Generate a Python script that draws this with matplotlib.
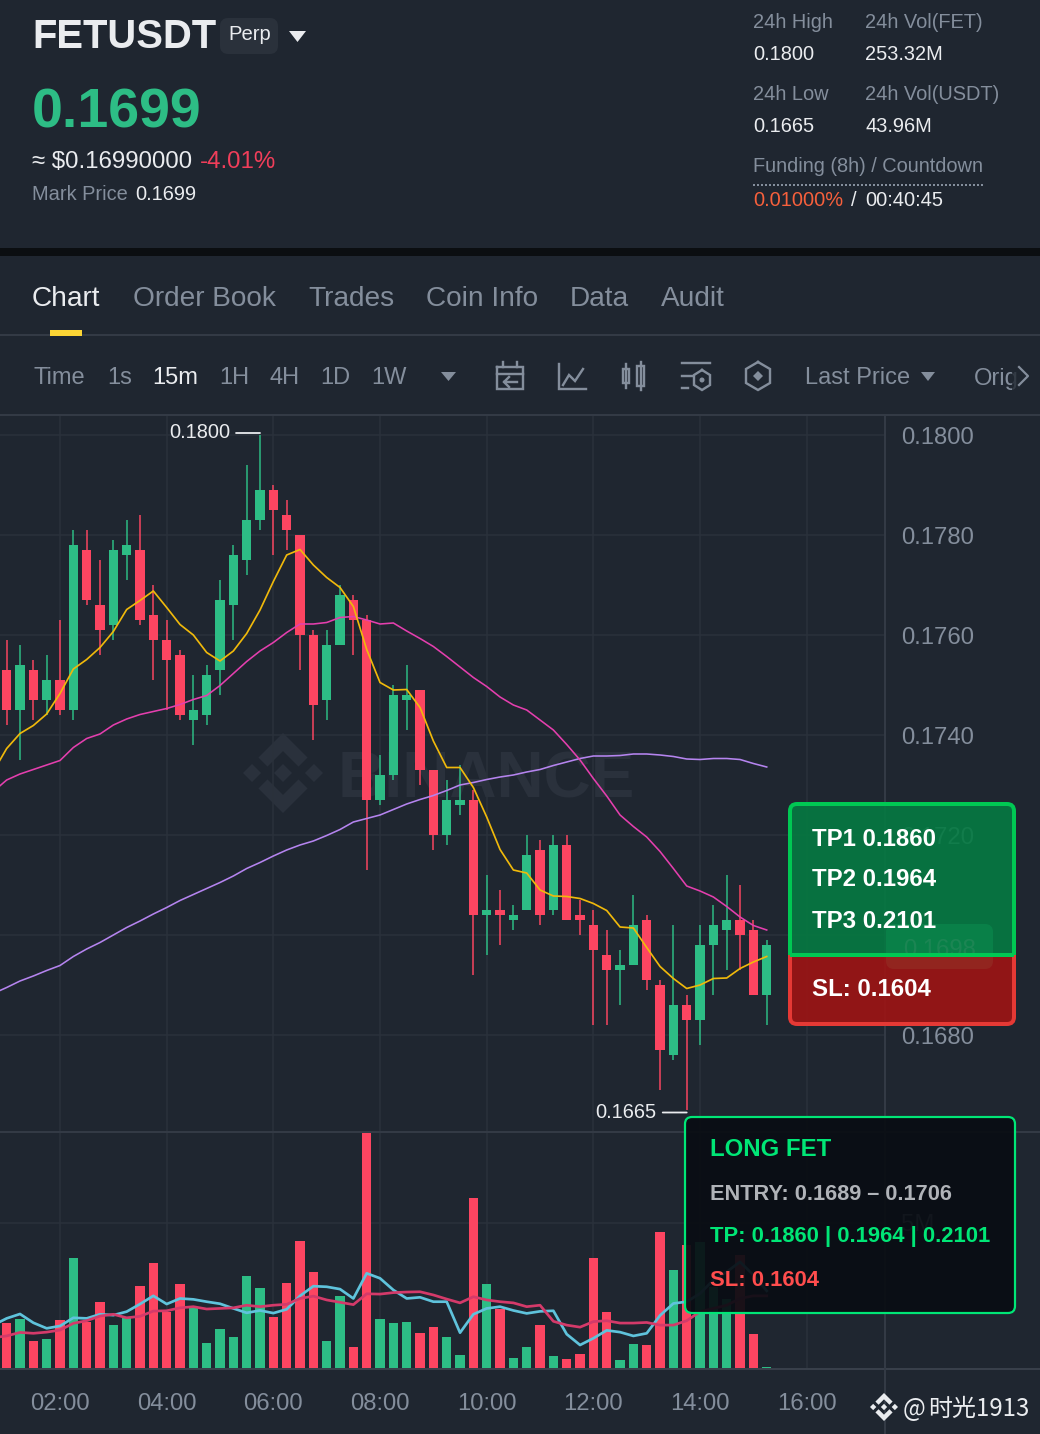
import numpy as np
import matplotlib
matplotlib.use('Agg')
import matplotlib.pyplot as plt
from matplotlib.patches import FancyBboxPatch, Polygon, Rectangle, Circle

plt.rcParams['font.family'] = ['Liberation Sans', 'DejaVu Sans']

# prices in units of 0.0001, one value per 15m candle
open_p = [1753, 1745, 1753, 1747, 1751, 1745, 1777, 1766, 1762, 1776, 1777, 1764, 1759, 1756, 1743, 1744, 1753, 1766, 1775, 1783,
          1789, 1784, 1780, 1760, 1747, 1758, 1767, 1763, 1727, 1732, 1747, 1749, 1733, 1720, 1726, 1727, 1704, 1705, 1703, 1705,
          1717, 1705, 1718, 1704, 1702, 1696, 1693, 1694, 1703, 1690, 1676, 1686, 1683, 1698, 1701, 1703, 1701, 1688]
close_p = [1745, 1754, 1747, 1751, 1745, 1778, 1767, 1761, 1777, 1778, 1763, 1759, 1755, 1744, 1745, 1752, 1767, 1776, 1783, 1789,
           1785, 1781, 1760, 1746, 1758, 1768, 1763, 1727, 1732, 1748, 1748, 1733, 1720, 1727, 1727, 1704, 1705, 1704, 1704, 1716,
           1704, 1718, 1703, 1703, 1697, 1693, 1694, 1702, 1691, 1677, 1686, 1683, 1698, 1702, 1703, 1700, 1688, 1698]
high_p = [1759, 1758, 1755, 1756, 1763, 1781, 1781, 1775, 1779, 1783, 1784, 1770, 1763, 1757, 1752, 1754, 1771, 1778, 1794, 1800,
          1790, 1787, 1780, 1761, 1761, 1770, 1768, 1764, 1736, 1750, 1754, 1749, 1733, 1731, 1734, 1729, 1712, 1709, 1706, 1720,
          1719, 1720, 1720, 1707, 1705, 1701, 1697, 1708, 1704, 1691, 1702, 1688, 1702, 1706, 1712, 1710, 1703, 1699]
low_p = [1742, 1735, 1743, 1744, 1744, 1743, 1766, 1756, 1759, 1771, 1762, 1751, 1745, 1743, 1738, 1742, 1748, 1759, 1772, 1781,
         1776, 1777, 1753, 1739, 1743, 1758, 1756, 1713, 1726, 1731, 1741, 1730, 1717, 1718, 1724, 1692, 1696, 1698, 1701, 1705,
         1702, 1704, 1703, 1700, 1682, 1682, 1686, 1694, 1689, 1669, 1675, 1665, 1678, 1688, 1693, 1693, 1688, 1682]

# moving averages start one candle before the first visible bar
ma_gold = [1732.7, 1737.3, 1740.3, 1741.9, 1744.2, 1748.3, 1753.2, 1755.1, 1757.5, 1760.7, 1765.1, 1766.9, 1768.8, 1765.5, 1762.1,
           1760.0, 1756.5, 1754.8, 1756.8, 1760.3, 1765.0, 1770.7, 1776.0, 1777.1, 1774.0, 1771.5, 1769.5, 1765.7, 1757.1, 1750.5,
           1749.0, 1749.1, 1745.5, 1738.8, 1733.5, 1733.5, 1729.5, 1723.6, 1717.1, 1713.0, 1712.4, 1709.0, 1707.8, 1707.7, 1707.3,
           1706.3, 1704.9, 1701.6, 1701.4, 1697.5, 1693.7, 1691.3, 1689.3, 1690.0, 1691.3, 1691.4, 1693.3, 1694.6, 1695.7]
ma_pink = [1728.7, 1731.0, 1732.2, 1733.1, 1734.0, 1734.9, 1737.5, 1739.3, 1740.2, 1742.0, 1743.2, 1744.1, 1744.7, 1745.3, 1746.1,
           1747.1, 1747.9, 1749.9, 1752.3, 1754.7, 1756.8, 1758.5, 1760.5, 1762.2, 1762.2, 1762.5, 1763.5, 1763.7, 1763.0, 1762.2,
           1762.4, 1760.8, 1759.3, 1757.7, 1755.7, 1753.6, 1751.5, 1749.7, 1747.6, 1746.0, 1745.0, 1743.0, 1741.0, 1738.1, 1735.0,
           1731.3, 1727.8, 1724.0, 1721.7, 1719.6, 1716.7, 1713.3, 1709.8, 1708.8, 1707.6, 1705.7, 1703.6, 1701.9, 1701.0]
ma_purple = [1688.3, 1689.5, 1690.8, 1691.8, 1692.9, 1693.9, 1695.7, 1697.2, 1698.5, 1700.0, 1701.5, 1702.8, 1704.2, 1705.5, 1706.9,
             1708.1, 1709.3, 1710.5, 1711.8, 1713.3, 1714.5, 1715.8, 1717.0, 1718.0, 1718.8, 1719.9, 1721.1, 1722.6, 1723.3, 1724.0,
             1725.1, 1726.2, 1727.1, 1727.9, 1728.9, 1730.0, 1730.5, 1731.1, 1731.6, 1732.0, 1732.6, 1733.1, 1733.9, 1734.6, 1735.3,
             1735.8, 1735.8, 1735.9, 1736.2, 1736.2, 1736.0, 1735.7, 1735.2, 1735.1, 1735.3, 1735.3, 1735.1, 1734.3, 1733.6]

# volume in millions
volume = [1.56, 1.70, 0.97, 1.02, 1.67, 3.81, 1.62, 2.28, 1.50, 1.73, 2.83, 3.61, 1.96, 2.90, 2.07, 0.88, 1.35, 1.10, 3.18, 2.77,
          1.79, 2.95, 4.38, 3.31, 0.96, 2.50, 0.76, 8.05, 1.71, 1.56, 1.62, 1.22, 1.45, 1.08, 0.47, 5.83, 2.92, 2.05, 0.36, 0.76,
          1.50, 0.44, 0.33, 0.51, 3.79, 1.95, 0.31, 0.85, 0.83, 4.67, 3.38, 4.23, 4.34, 2.81, 2.39, 3.88, 1.21, 0.06]
vol_blue = [1.50, 1.73, 1.88, 1.58, 1.39, 1.47, 1.75, 1.73, 1.87, 1.84, 1.96, 2.22, 2.50, 2.22, 2.41, 2.38, 2.30, 2.23, 2.07, 1.92,
            2.00, 1.91, 2.04, 2.50, 2.83, 2.81, 2.73, 2.41, 3.27, 3.10, 2.70, 2.41, 2.45, 2.30, 2.30, 1.24, 1.87, 2.07, 2.13, 2.00,
            1.90, 1.97, 1.99, 1.19, 0.82, 1.05, 1.32, 1.26, 1.13, 1.22, 1.83, 2.24, 2.30, 2.58, 3.04, 3.32, 3.66, 3.21, 2.67]
vol_pink = [1.07, 1.13, 1.25, 1.22, 1.26, 1.33, 1.56, 1.65, 1.81, 1.87, 1.75, 1.80, 1.98, 1.99, 2.09, 2.13, 2.05, 2.07, 2.09, 2.18,
            2.13, 2.18, 2.21, 2.41, 2.49, 2.36, 2.28, 2.20, 2.57, 2.56, 2.61, 2.63, 2.64, 2.53, 2.39, 2.26, 2.47, 2.36, 2.30, 2.26,
            2.13, 2.18, 1.63, 1.50, 1.43, 1.62, 1.65, 1.57, 1.57, 1.59, 1.50, 1.50, 1.65, 1.96, 2.07, 2.18, 2.41, 2.50, 2.50]

time_ticks = [4, 12, 20, 28, 36, 44, 52, 60]
time_labels = ['02:00', '04:00', '06:00', '08:00', '10:00', '12:00', '14:00', '16:00']
price_ticks = [0.1800, 0.1780, 0.1760, 0.1740, 0.1720, 0.1700, 0.1680]

BG = '#1f2630'
GRID = '#2a313b'
LINE = '#333a45'
GREEN = '#2dbd85'
RED = '#fc4561'
GREY = '#848e9c'
WHITE = '#eaecef'

W, H = 1040, 1434
fig = plt.figure(figsize=(W / 100, H / 100), dpi=100, facecolor=BG)


def area(x0, y0, x1, y1):
    return [x0 / W, 1 - y1 / H, (x1 - x0) / W, (y1 - y0) / H]


def px(n):
    return n * 0.72


ax_bg = fig.add_axes([0, 0, 1, 1], zorder=0)
ax_bg.set_xlim(0, W)
ax_bg.set_ylim(H, 0)
ax_bg.axis('off')

ax = fig.add_axes(area(0, 415, 885, 1132), zorder=1)
ax_v = fig.add_axes(area(0, 1132, 885, 1369), zorder=1)
ax_ui = fig.add_axes([0, 0, 1, 1], zorder=5)
ax_ui.set_xlim(0, W)
ax_ui.set_ylim(H, 0)
ax_ui.axis('off')
ax_ui.patch.set_alpha(0)

o = np.array(open_p) / 1e4
c = np.array(close_p) / 1e4
h = np.array(high_p) / 1e4
l = np.array(low_p) / 1e4
x = np.arange(len(o))
x_ma = np.arange(-1, len(o))
colors = [GREEN if b >= a else RED for a, b in zip(o, c)]

for a in (ax, ax_v):
    a.patch.set_alpha(0)
    a.set_xlim(-0.5, 65.87)
    for s in a.spines.values():
        s.set_visible(False)
    a.set_xticks(time_ticks)
    a.yaxis.tick_right()
    a.grid(True, color=GRID, lw=px(1.6))
    a.set_axisbelow(True)
    a.tick_params(length=0, colors=GREY, labelsize=17.2)

# candles
ax.set_ylim(0.18 - (1132 - 435) / 50000, 0.18 + 20 / 50000)
ax.set_yticks(price_ticks)
ax.set_yticklabels([f'{p:.4f}' for p in price_ticks])
ax.tick_params(axis='y', pad=px(16))
ax.tick_params(axis='x', labelbottom=False)
ax.vlines(x, l, h, colors=colors, lw=px(1.5), zorder=2)
ax.bar(x, np.abs(c - o), bottom=np.minimum(o, c), width=0.7, color=colors, zorder=3)
ax.plot(x_ma, np.array(ma_purple) / 1e4, color='#b584ef', lw=px(1.6), zorder=4)
ax.plot(x_ma, np.array(ma_pink) / 1e4, color='#e43fae', lw=px(1.6), zorder=4)
ax.plot(x_ma, np.array(ma_gold) / 1e4, color='#f0b90b', lw=px(1.7), zorder=5)

# high / low markers
i_hi, i_lo = int(np.argmax(h)), int(np.argmin(l))
ax.annotate('', xy=(i_hi, h[i_hi] + 0.00004), xytext=(-24, 0), textcoords='offset pixels',
            arrowprops=dict(arrowstyle='-', color=WHITE, lw=px(1.8), shrinkA=0, shrinkB=0))
ax.annotate(f'{h[i_hi]:.4f}', xy=(i_hi, h[i_hi] + 0.00004), xytext=(-30, 0), textcoords='offset pixels',
            color=WHITE, fontsize=14.4, ha='right', va='center')
ax.annotate('', xy=(i_lo, l[i_lo] - 0.00005), xytext=(-24, 0), textcoords='offset pixels',
            arrowprops=dict(arrowstyle='-', color=WHITE, lw=px(1.8), shrinkA=0, shrinkB=0), annotation_clip=False)
ax.annotate(f'{l[i_lo]:.4f}', xy=(i_lo, l[i_lo] - 0.00005), xytext=(-30, 0), textcoords='offset pixels',
            color=WHITE, fontsize=14.4, ha='right', va='center', annotation_clip=False)

# volume
ax_v.set_ylim(0, 237 / 146.3 * 5)
ax_v.set_yticks([5])
ax_v.set_yticklabels(['5M'])
ax_v.tick_params(axis='y', pad=px(16))
ax_v.tick_params(axis='x', pad=px(24))
ax_v.set_xticklabels(time_labels)
ax_v.bar(x, volume, width=0.7, color=colors, zorder=3)
ax_v.plot(x_ma, vol_blue, color='#5fc3dc', lw=px(2.7), zorder=4)
ax_v.plot(x_ma, vol_pink, color='#d43a6a', lw=px(2.7), zorder=5)


def txt(a, x0, y0, s, size, color=WHITE, bold=False, **kw):
    return a.text(x0, y0, s, fontsize=size, color=color, fontweight='bold' if bold else 'normal',
                  va='baseline', **kw)


def hline(y0, x0=0, x1=W, color=LINE, lw=2, zorder=1):
    ax_ui.plot([x0, x1], [y0, y0], color=color, lw=px(lw), zorder=zorder, solid_capstyle='butt')


def caret(x0, x1, y0, y1, color):
    ax_ui.add_patch(Polygon([(x0, y0), (x1, y0), ((x0 + x1) / 2, y1)], closed=True, fc=color, ec='none', zorder=3))


def logo(a, cx, cy, r, color, zorder=1):
    top = [(-0.388, 0.16), (0, 0.548), (0.388, 0.16), (0.614, 0.386), (0, 1), (-0.614, 0.386)]
    shapes = [top, [(px_, -py_) for px_, py_ in top]]
    for dx in (-0.774, 0, 0.774):
        d = 0.226
        shapes.append([(dx - d, 0), (dx, d), (dx + d, 0), (dx, -d)])
    for s in shapes:
        a.add_patch(Polygon([(cx + r * p, cy - r * q) for p, q in s], closed=True, fc=color, ec='none', zorder=zorder))


# watermark under the candles
logo(ax_bg, 283, 773, 40, '#2a313c')
txt(ax_bg, 338, 797, 'BINANCE', 47, '#2a313c', bold=True)

# header
txt(ax_ui, 32, 48, 'FETUSDT', 28.8, bold=True)
ax_ui.add_patch(FancyBboxPatch((224, 22), 50, 28, boxstyle='round,pad=0,rounding_size=4', fc='#2a313b', ec='#2a313b', lw=px(8)))
txt(ax_ui, 228.5, 40, 'Perp', 14.6)
caret(289, 306, 31, 42, WHITE)
txt(ax_ui, 32, 128, '0.1699', 40, GREEN, bold=True)
txt(ax_ui, 32, 168, '≈ $0.16990000', 17.3)
txt(ax_ui, 200, 168, '-4.01%', 17.3, '#f03e5a')
txt(ax_ui, 32, 200, 'Mark Price', 14.4, GREY)
txt(ax_ui, 135, 200, '0.1699', 14.4)

txt(ax_ui, 753, 28, '24h High', 14.4, GREY)
txt(ax_ui, 753, 60, '0.1800', 14.4)
txt(ax_ui, 865, 28, '24h Vol(FET)', 14.4, GREY)
txt(ax_ui, 865, 60, '253.32M', 14.4)
txt(ax_ui, 753, 100, '24h Low', 14.4, GREY)
txt(ax_ui, 753, 132, '0.1665', 14.4)
txt(ax_ui, 865, 100, '24h Vol(USDT)', 14.4, GREY)
txt(ax_ui, 865, 132, '43.96M', 14.4)
txt(ax_ui, 753, 172, 'Funding (8h) / Countdown', 14.4, GREY)
ax_ui.plot([753, 985], [184.5, 184.5], color=GREY, lw=px(2), ls=(0, (1, 1)), zorder=2)
txt(ax_ui, 753, 206, '0.01000%', 14.4, '#f7603c')
txt(ax_ui, 851, 206, '/', 14.4)
txt(ax_ui, 865, 206, '00:40:45', 14.4)

ax_ui.add_patch(Rectangle((0, 248), W, 8, fc='#0b0e11', ec='none', zorder=2))

# tabs
tabs = [('Chart', 32, WHITE), ('Order Book', 133, GREY), ('Trades', 308, GREY),
        ('Coin Info', 426, GREY), ('Data', 570, GREY), ('Audit', 661, GREY)]
for name, tx, col in tabs:
    txt(ax_ui, tx, 306, name, 20.2, col)
hline(335)
ax_ui.add_patch(Rectangle((50, 330), 32, 6, fc='#fcd535', ec='none', zorder=3))

# toolbar
tools = [('Time', 34, GREY), ('1s', 107, GREY), ('15m', 152, WHITE), ('1H', 219, GREY), ('4H', 269, GREY),
         ('1D', 320, GREY), ('1W', 371, GREY), ('Last Price', 805, GREY)]
for name, tx, col in tools:
    txt(ax_ui, tx, 384.5, name, 17, col)
caret(441, 456, 372, 381, GREY)
caret(921, 935, 372, 381, GREY)
t_orig = txt(ax_ui, 974, 384.5, 'Orig', 17, GREY)
ax_ui.add_patch(Rectangle((1012, 360), 6, 34, fc=BG, ec='none', alpha=0.8, zorder=3))
ax_ui.plot([1019, 1028, 1019], [367, 376, 385], color=GREY, lw=px(2.2), zorder=4)
ic = dict(color=GREY, lw=px(2.4), zorder=3, solid_joinstyle='miter')
# calendar
ax_ui.plot([497, 523, 523, 497, 497], [367, 367, 389, 389, 367], **ic)
ax_ui.plot([497, 523], [374, 374], **ic)
ax_ui.plot([503, 503], [362, 367], **ic)
ax_ui.plot([517, 517], [362, 367], **ic)
ax_ui.plot([517, 504, 509], [382, 382, 377], **ic)
ax_ui.plot([504, 509], [382, 387], **ic)
# line chart
ax_ui.plot([559, 559, 586], [364, 389, 389], **ic)
ax_ui.plot([563, 569, 575, 583], [385, 375, 381, 369], **ic)
# candles
ax_ui.add_patch(Rectangle((623, 369), 6, 14, fc='none', ec=GREY, lw=px(2.4), zorder=3))
ax_ui.add_patch(Rectangle((637, 366), 7, 20, fc='none', ec=GREY, lw=px(2.4), zorder=3))
ax_ui.plot([626, 626], [364, 388], **ic)
ax_ui.plot([640.5, 640.5], [362, 390], **ic)
# settings
ax_ui.plot([682, 710], [363, 363], **ic)
ax_ui.plot([682, 692], [376, 376], **ic)
ax_ui.plot([682, 688], [388, 388], **ic)
hex_r = 10
ax_ui.plot([702, 710, 710, 702, 694, 694, 702], [370, 375, 385, 390, 385, 375, 370], **ic)
ax_ui.add_patch(Circle((702, 380), 2.5, fc=GREY, ec='none', zorder=3))
# hexagon
ax_ui.plot([758, 770, 770, 758, 746, 746, 758], [362, 369, 383, 390, 383, 369, 362], **ic)
ax_ui.add_patch(Polygon([(758, 371), (763, 376), (758, 381), (753, 376)], closed=True, fc=GREY, ec='none', zorder=3))
hline(415)
hline(1132)
hline(1369, color='#383f4a')
ax_ui.plot([885, 885], [415, H], color=LINE, lw=px(2), zorder=1)

# last price tag sits under the TP box
ax_ui.add_patch(FancyBboxPatch((888, 926), 103, 41, boxstyle='round,pad=0,rounding_size=6', fc=GREEN, ec=GREEN, lw=px(4), zorder=2))
txt(ax_ui, 903, 956, f'{c[-1]:.4f}', 17.2, WHITE, zorder=3)

# TP / SL box
box_g = FancyBboxPatch((790, 804), 224, 220, boxstyle='round,pad=0,rounding_size=7', fc=(0.02, 0.48, 0.26, 0.9),
                       ec='#00c853', lw=px(4), zorder=6)
box_r = FancyBboxPatch((790, 804), 224, 220, boxstyle='round,pad=0,rounding_size=7', fc=(0.62, 0.08, 0.08, 0.9),
                       ec='#e53935', lw=px(4), zorder=6)
ax_ui.add_patch(box_g)
ax_ui.add_patch(box_r)
box_g.set_clip_path(Rectangle((780, 795), 250, 160, transform=ax_ui.transData))
box_r.set_clip_path(Rectangle((780, 955), 250, 80, transform=ax_ui.transData))
ax_ui.plot([790, 1014], [955, 955], color='#00c853', lw=px(4), zorder=7, solid_capstyle='butt')
txt(ax_ui, 812, 846, 'TP1 0.1860', 17.3, 'white', bold=True, zorder=8)
txt(ax_ui, 812, 886, 'TP2 0.1964', 17.3, 'white', bold=True, zorder=8)
txt(ax_ui, 812, 928, 'TP3 0.2101', 17.3, 'white', bold=True, zorder=8)
txt(ax_ui, 812, 996, 'SL: 0.1604', 17.3, 'white', bold=True, zorder=8)

# signal card
ax_ui.add_patch(FancyBboxPatch((685, 1117), 330, 196, boxstyle='round,pad=0,rounding_size=7', fc=(0.035, 0.05, 0.075, 0.93),
                               ec='#00e676', lw=px(2.2), zorder=6))
txt(ax_ui, 710, 1156, 'LONG FET', 17.3, '#00e676', bold=True, zorder=8)
txt(ax_ui, 710, 1200, 'ENTRY: 0.1689 – 0.1706', 15.7, '#b0b3b8', bold=True, zorder=8)
txt(ax_ui, 710, 1242, 'TP: 0.1860 | 0.1964 | 0.2101', 15.8, '#00e676', bold=True, zorder=8)
txt(ax_ui, 710, 1286, 'SL: 0.1604', 15.8, '#ff4d4d', bold=True, zorder=8)

# author mark
logo(ax_ui, 884, 1407, 14, WHITE, zorder=8)
txt(ax_ui, 903, 1416, '@', 17.3, WHITE, zorder=8, family=['Noto Sans CJK SC', 'DejaVu Sans'])
txt(ax_ui, 928, 1416, '时光1913', 17.3, WHITE, zorder=8, family=['Noto Sans CJK SC', 'DejaVu Sans'])

fig.savefig('out.png', dpi=100, facecolor=BG)
